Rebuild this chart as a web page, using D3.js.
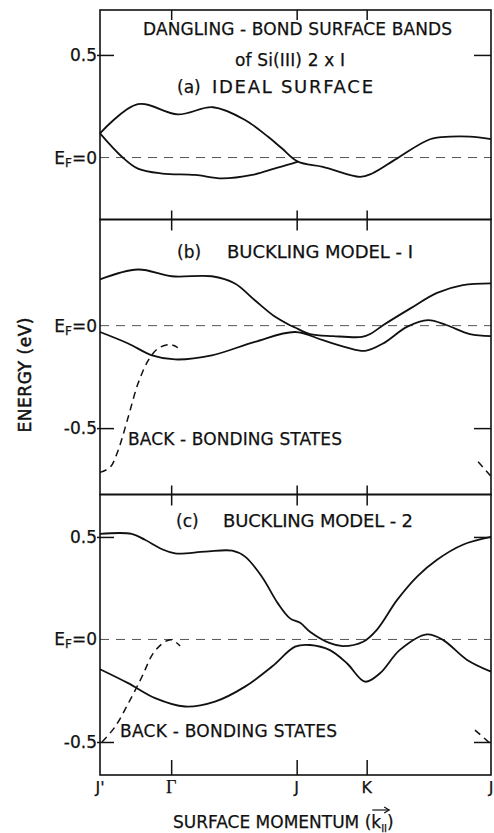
<!DOCTYPE html>
<html>
<head>
<meta charset="utf-8">
<script src="https://cdn.jsdelivr.net/npm/d3@7/dist/d3.min.js"></script>
<style>
  body { margin: 0; background: #fff; }
  text { font-family: "DejaVu Sans", sans-serif; fill: #111; stroke: #111; stroke-width: 0.25px; }
</style>
</head>
<body>
<div id="chart"></div>
<script>
// symmetry points along the surface momentum axis (normalised distance)
const kTickVals = [0, 0.182, 0.503, 0.682, 1];
const kTickNames = ["J'", "Γ", "J", "K", "J"];

// (a) ideal surface
const aUpperK = [0, 0.097, 0.199, 0.289, 0.371, 0.430, 0.465, 0.506, 0.570, 0.665, 0.696, 0.760, 0.844, 0.895, 0.946, 1.0];
const aUpperE = [0.118, 0.260, 0.210, 0.245, 0.183, 0.101, 0.045, -0.020, -0.045, -0.094, -0.078, -0.004, 0.089, 0.102, 0.102, 0.090];
const aLowerK = [0, 0.056, 0.097, 0.159, 0.243, 0.312, 0.389, 0.448, 0.486, 0.506];
const aLowerE = [0.118, 0.004, -0.054, -0.078, -0.085, -0.102, -0.085, -0.053, -0.032, -0.020];

// (b) buckling model 1
const bUpperK = [0, 0.097, 0.184, 0.286, 0.345, 0.396, 0.448, 0.486, 0.499, 0.537, 0.596, 0.670, 0.691, 0.724, 0.793, 0.862, 0.928, 1.0];
const bUpperE = [0.226, 0.274, 0.241, 0.241, 0.206, 0.124, 0.043, 0.002, -0.009, -0.041, -0.051, -0.055, -0.041, 0.002, 0.083, 0.160, 0.198, 0.206];
const bLowerK = [0, 0.072, 0.133, 0.192, 0.286, 0.396, 0.499, 0.570, 0.632, 0.678, 0.724, 0.785, 0.839, 0.887, 0.946, 1.0];
const bLowerE = [-0.031, -0.087, -0.145, -0.165, -0.145, -0.079, -0.031, -0.071, -0.107, -0.123, -0.087, -0.006, 0.027, 0.002, -0.041, -0.051];
const bBackK = [0, 0.026, 0.046, 0.072, 0.097, 0.123, 0.148, 0.179, 0.199];
const bBackE = [-0.716, -0.691, -0.610, -0.447, -0.284, -0.171, -0.112, -0.092, -0.107];
const bBackEndK = [0.967, 1.0];
const bBackEndE = [-0.664, -0.735];

// (c) buckling model 2
const cUpperK = [0, 0.081, 0.115, 0.159, 0.192, 0.269, 0.338, 0.371, 0.414, 0.455, 0.486, 0.512, 0.537, 0.588, 0.621, 0.673, 0.708, 0.760, 0.811, 0.862, 0.928, 1.0];
const cUpperE = [0.515, 0.515, 0.486, 0.440, 0.420, 0.428, 0.433, 0.404, 0.306, 0.176, 0.103, 0.081, 0.038, -0.018, -0.032, -0.011, 0.047, 0.193, 0.307, 0.389, 0.462, 0.500];
const cLowerK = [0, 0.072, 0.141, 0.217, 0.294, 0.371, 0.440, 0.499, 0.537, 0.588, 0.632, 0.678, 0.716, 0.767, 0.836, 0.877, 0.939, 1.0];
const cLowerE = [-0.145, -0.213, -0.286, -0.327, -0.303, -0.230, -0.132, -0.035, -0.027, -0.052, -0.117, -0.206, -0.165, -0.051, 0.025, -0.002, -0.100, -0.157];
const cBackK = [0.005, 0.038, 0.072, 0.107, 0.136, 0.166, 0.184, 0.205];
const cBackE = [-0.500, -0.427, -0.313, -0.183, -0.068, -0.011, -0.002, -0.032];
const cBackEndK = [0.959, 0.997];
const cBackEndE = [-0.442, -0.505];

const zip = (ks, es) => ks.map((k, i) => ({ k: k, e: es[i] }));

const width = 494, height = 833;
const plotLeft = 100, plotRight = 491;

const svg = d3.select("#chart")
    .append("svg")
    .attr("width", width)
    .attr("height", height);

const x = d3.scaleLinear().domain([0, 1]).range([plotLeft, plotRight]);

const panels = [
    { top: 10, bottom: 219.5, domain: [-0.302, 0.719], tag: "(a)", name: "IDEAL SURFACE",
      tagX: 177, nameX: 212, nameLen: 161, titleY: 93, yTicks: [0.5], labels: [0.5, 0],
      topTick: 10, botTick: 9,
      bands: [zip(aUpperK, aUpperE), zip(aLowerK, aLowerE)], back: [] },
    { top: 219.5, bottom: 494.5, domain: [-0.824, 0.518], tag: "(b)", name: "BUCKLING MODEL - I",
      tagX: 177, nameX: 227, nameLen: 186, titleY: 258, yTicks: [-0.5], labels: [0, -0.5],
      topTick: 11, botTick: 9,
      bands: [zip(bUpperK, bUpperE), zip(bLowerK, bLowerE)],
      back: [zip(bBackK, bBackE), zip(bBackEndK, bBackEndE)],
      backX: 128, backY: 445, backLen: 214 },
    { top: 494.5, bottom: 775, domain: [-0.661, 0.707], tag: "(c)", name: "BUCKLING MODEL - 2",
      tagX: 176, nameX: 223, nameLen: 190, titleY: 527, yTicks: [0.5, -0.5], labels: [0.5, 0, -0.5],
      topTick: 11, botTick: 15,
      bands: [zip(cUpperK, cUpperE), zip(cLowerK, cLowerE)],
      back: [zip(cBackK, cBackE), zip(cBackEndK, cBackEndE)],
      backX: 120, backY: 737, backLen: 217 }
];

function label(sel, str, px, py, len, size, anchor) {
    const t = sel.append("text")
        .attr("x", px)
        .attr("y", py)
        .attr("font-size", size + "px")
        .attr("text-anchor", anchor || "start")
        .text(str);
    if (len) t.attr("textLength", len).attr("lengthAdjust", "spacing");
    return t;
}

panels.forEach(p => {
    const y = d3.scaleLinear().domain(p.domain).range([p.bottom, p.top]);
    const g = svg.append("g");

    // Fermi level
    g.append("line")
        .attr("x1", plotLeft).attr("x2", plotRight)
        .attr("y1", y(0)).attr("y2", y(0))
        .attr("stroke", "#555")
        .attr("stroke-width", 1)
        .attr("stroke-dasharray", "9,7");

    const line = d3.line()
        .x(d => x(d.k))
        .y(d => y(d.e))
        .curve(d3.curveCatmullRom.alpha(0.5));

    g.selectAll(".band")
        .data(p.bands)
        .enter().append("path")
        .attr("class", "band")
        .attr("d", line)
        .attr("fill", "none")
        .attr("stroke", "#111")
        .attr("stroke-width", 1.8);

    g.selectAll(".back")
        .data(p.back)
        .enter().append("path")
        .attr("class", "back")
        .attr("d", line)
        .attr("fill", "none")
        .attr("stroke", "#111")
        .attr("stroke-width", 1.5)
        .attr("stroke-dasharray", "7,5");

    // frame
    g.append("rect")
        .attr("x", plotLeft).attr("y", p.top)
        .attr("width", plotRight - plotLeft)
        .attr("height", p.bottom - p.top)
        .attr("fill", "none")
        .attr("stroke", "#111")
        .attr("stroke-width", 1.6);

    // momentum ticks on top and bottom edges, pointing inward
    const inner = kTickVals.slice(1, 4);
    g.append("g")
        .attr("transform", "translate(0," + p.top + ")")
        .call(d3.axisBottom(x).tickValues(inner).tickSize(p.topTick).tickFormat(""));
    g.append("g")
        .attr("transform", "translate(0," + p.bottom + ")")
        .call(d3.axisTop(x).tickValues(inner).tickSize(p.botTick).tickFormat(""));

    // energy ticks on both sides, pointing inward
    g.append("g")
        .attr("transform", "translate(" + (plotLeft - 3) + ",0)")
        .call(d3.axisRight(y).tickValues(p.yTicks).tickSize(17).tickFormat(""));
    g.append("g")
        .attr("transform", "translate(" + plotRight + ",0)")
        .call(d3.axisLeft(y).tickValues(p.yTicks).tickSize(17).tickFormat(""));

    g.selectAll(".domain").remove();
    g.selectAll(".tick line").attr("stroke", "#111").attr("stroke-width", 1.5);

    // energy labels
    p.labels.forEach(v => {
        if (v === 0) {
            const t = g.append("text")
                .attr("x", 97).attr("y", y(0) + 6)
                .attr("font-size", "17px")
                .attr("text-anchor", "end");
            t.append("tspan").text("E");
            t.append("tspan").attr("font-size", "12px").attr("dy", 3).text("F");
            t.append("tspan").attr("dy", -3).text("=0");
        } else {
            label(g, v > 0 ? "0.5" : "-0.5", 97, y(v) + 6, null, 17, "end");
        }
    });

    label(g, p.tag, p.tagX, p.titleY, null, 17);
    label(g, p.name, p.nameX, p.titleY, p.nameLen, 18);
    if (p.back.length) label(g, "BACK - BONDING STATES", p.backX, p.backY, p.backLen, 17);
});

label(svg, "DANGLING - BOND SURFACE BANDS", 143, 35, 309, 17);
label(svg, "of Si(III) 2 x I", 235, 66, 110, 17);

// momentum labels under the last panel
kTickVals.forEach((k, i) => {
    const t = label(svg, kTickNames[i], x(k), 793, null, 16, "middle");
    if (kTickNames[i] === "Γ") t.style("font-family", "'Liberation Serif', serif").attr("font-size", "18px");
});

// axis titles
svg.append("text")
    .attr("transform", "translate(31,375) rotate(-90)")
    .attr("text-anchor", "middle")
    .attr("font-size", "17px")
    .attr("textLength", 115)
    .attr("lengthAdjust", "spacing")
    .style("stroke-width", "0.5px")
    .text("ENERGY (eV)");

const xt = svg.append("text")
    .attr("x", 173).attr("y", 828)
    .attr("font-size", "17px");
xt.append("tspan").text("SURFACE MOMENTUM (k");
xt.append("tspan").attr("font-size", "10px").attr("dy", 4).text("II");
xt.append("tspan").attr("dy", -4).text(")");

// arrow over k (character 18 of the axis title)
const kBox = xt.node().getExtentOfChar(18);
const ay = kBox.y - 2;
const ax0 = kBox.x + 1, ax1 = kBox.x + kBox.width + 8;
svg.append("line")
    .attr("x1", ax0).attr("x2", ax1)
    .attr("y1", ay).attr("y2", ay)
    .attr("stroke", "#111").attr("stroke-width", 1.2);
svg.append("path")
    .attr("d", "M" + (ax1 - 5) + "," + (ay - 3) + "L" + ax1 + "," + ay + "L" + (ax1 - 5) + "," + (ay + 3))
    .attr("fill", "none")
    .attr("stroke", "#111").attr("stroke-width", 1.2);
</script>
</body>
</html>
